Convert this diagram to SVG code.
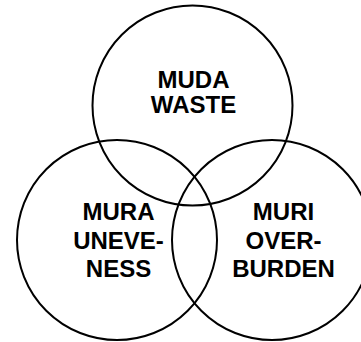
<svg xmlns="http://www.w3.org/2000/svg" width="361" height="342" viewBox="0 0 361 342">
<style>
.c{fill:none;stroke:#000;stroke-width:2}
.t{font-family:"Liberation Sans",Arial,sans-serif;font-weight:bold;font-size:24px;text-anchor:middle;fill:#000}
</style>
<rect width="361" height="342" fill="#fff"/>
<g id="muda">
<circle class="c" cx="192.5" cy="105.5" r="100"/>
<text class="t" x="193.5" y="87.5">MUDA</text>
<text class="t" x="193.5" y="112.5">WASTE</text>
</g>
<g id="mura">
<circle class="c" cx="117" cy="240" r="100"/>
<text class="t" x="118.5" y="220">MURA</text>
<text class="t" x="118.5" y="248.5">UNEVE-</text>
<text class="t" x="118.5" y="277">NESS</text>
</g>
<g id="muri">
<circle class="c" cx="272" cy="240" r="100"/>
<text class="t" x="283.5" y="220">MURI</text>
<text class="t" x="283.5" y="248.5">OVER-</text>
<text class="t" x="283.5" y="277">BURDEN</text>
</g>
<g id="connectors"/>
</svg>
